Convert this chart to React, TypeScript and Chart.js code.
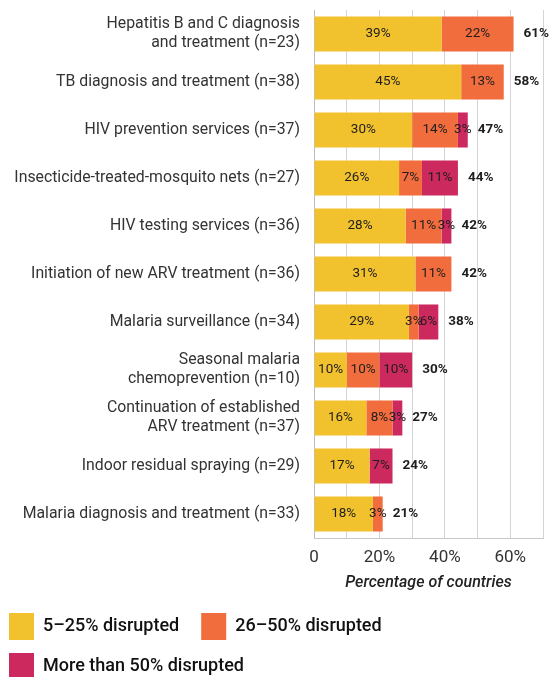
import React, { useEffect, useRef } from "react";
import { Chart, registerables } from "chart.js";

Chart.register(...registerables);

const categories: (string | string[])[] = [
  ["Hepatitis B and C diagnosis", "and treatment (n=23)"],
  "TB diagnosis and treatment (n=38)",
  "HIV prevention services (n=37)",
  "Insecticide-treated-mosquito nets (n=27)",
  "HIV testing services (n=36)",
  "Initiation of new ARV treatment (n=36)",
  "Malaria surveillance (n=34)",
  ["Seasonal malaria", "chemoprevention (n=10)"],
  ["Continuation of established", "ARV treatment (n=37)"],
  "Indoor residual spraying (n=29)",
  "Malaria diagnosis and treatment (n=33)",
];

const low = [39, 45, 30, 26, 28, 31, 29, 10, 16, 17, 18];
const mid = [22, 13, 14, 7, 11, 11, 3, 10, 8, 0, 3];
const high = [0, 0, 3, 11, 3, 0, 6, 10, 3, 7, 0];
const totals = [61, 58, 47, 44, 42, 42, 38, 30, 27, 24, 21];

const seriesNames = ["5–25% disrupted", "26–50% disrupted", "More than 50% disrupted"];
const seriesColors = ["#F2C12E", "#F26D3D", "#CC2A5E"];
const xTicks = [0, 20, 40, 60];

const FONT = "Roboto, 'Noto Sans', sans-serif";

const labelPlugin = {
  id: "barLabels",
  afterDatasetsDraw(chart: any) {
    const ctx = chart.ctx;
    ctx.save();
    ctx.textBaseline = "middle";
    chart.data.datasets.forEach((ds: any, i: number) => {
      const meta = chart.getDatasetMeta(i);
      meta.data.forEach((bar: any, j: number) => {
        const v = ds.data[j];
        if (!v) return;
        ctx.font = `400 13.5px ${FONT}`;
        ctx.fillStyle = "#1e1e1e";
        ctx.textAlign = "center";
        ctx.fillText(v + "%", (bar.x + bar.base) / 2, bar.y);
      });
    });
    const xs = chart.scales.x;
    const meta0 = chart.getDatasetMeta(0);
    totals.forEach((t, j) => {
      const y = meta0.data[j].y;
      ctx.font = `700 13.5px ${FONT}`;
      ctx.fillStyle = "#1e1e1e";
      ctx.textAlign = "left";
      ctx.fillText(t + "%", xs.getPixelForValue(t) + 10, y);
    });
    ctx.restore();
  },
};

const legendShift = {
  id: "legendShift",
  afterLayout(chart: any) {
    const lg = chart.legend;
    if (lg) {
      lg.left -= 4;
      lg.right -= 4;
    }
  },
};

export default function App() {
  const ref = useRef<HTMLCanvasElement>(null);
  useEffect(() => {
    document.body.style.margin = "0";
    const chart = new Chart(ref.current!, {
      type: "bar",
      data: {
        labels: categories,
        datasets: [
          { label: seriesNames[0], data: low, backgroundColor: seriesColors[0] },
          { label: seriesNames[1], data: mid, backgroundColor: seriesColors[1] },
          { label: seriesNames[2], data: high, backgroundColor: seriesColors[2] },
        ],
      },
      options: {
        indexAxis: "y",
        responsive: false,
        animation: false,
        devicePixelRatio: 1,
        datasets: { bar: { barPercentage: 0.73, categoryPercentage: 1 } },
        layout: { padding: { top: 10, right: 8, left: 0, bottom: 0 } },
        scales: {
          x: {
            stacked: true,
            min: 0,
            max: 70,
            grid: { color: "#d4d4d4", drawTicks: false },
            border: { display: true, color: "#c8c8c8" },
            ticks: {
              stepSize: 10,
              padding: 10,
              autoSkip: false,
              maxRotation: 0,
              minRotation: 0,
              color: "#333",
              font: { family: FONT, size: 17 },
              callback: (v: any) =>
                xTicks.includes(Number(v)) ? (Number(v) === 0 ? "0" : v + "%") : "",
            },
            title: {
              display: true,
              text: "Percentage of countries",
              color: "#222",
              font: { family: FONT, size: 16, style: "italic", weight: "500" },
              padding: { top: 4, bottom: 7 },
            },
            afterFit: (s: any) => {
              s.height = 62;
              s.paddingLeft = 0;
              s.paddingRight = 0;
            },
          },
          y: {
            stacked: true,
            grid: { display: false, drawTicks: false },
            border: { display: true, color: "#bdbdbd" },
            ticks: {
              padding: 14,
              color: "#333",
              font: { family: FONT, size: 15.8 },
            },
            afterFit: (s: any) => {
              s.width = 314;
              s.paddingTop = 0;
              s.paddingBottom = 0;
            },
          },
        },
        plugins: {
          legend: {
            position: "bottom",
            align: "start",
            labels: {
              boxWidth: 25,
              boxHeight: 27,
              padding: 13,
              color: "#111",
              font: { family: FONT, size: 18, weight: "500" },
              generateLabels: (c: any) =>
                Chart.defaults.plugins.legend.labels
                  .generateLabels(c)
                  .map((it: any, i: number) => ({
                    ...it,
                    lineWidth: 0,
                    text: i === 0 ? it.text + "  " : it.text,
                  })),
            },
          },
          tooltip: { enabled: false },
        },
      },
      plugins: [labelPlugin, legendShift],
    } as any);
    return () => chart.destroy();
  }, []);
  return (
    <div style={{ width: 551, height: 677, overflow: "hidden" }}>
      <canvas ref={ref} width={551} height={690} style={{ display: "block" }} />
    </div>
  );
}
